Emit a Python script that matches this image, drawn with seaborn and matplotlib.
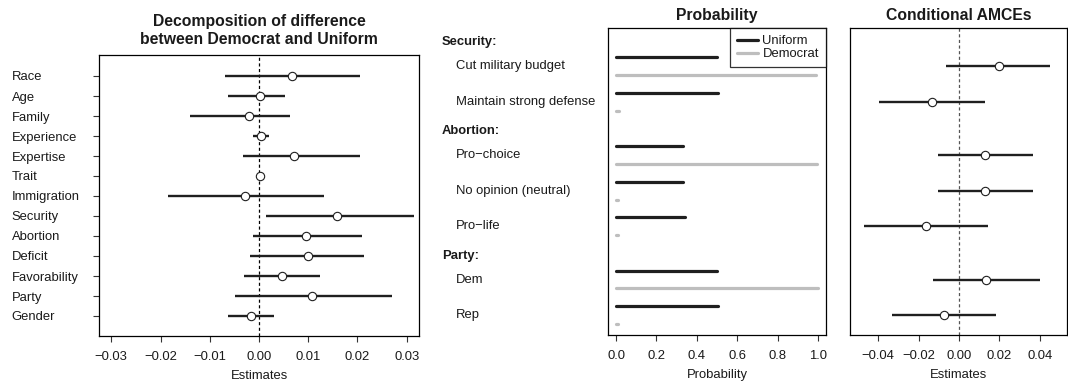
import numpy as np
import pandas as pd
import matplotlib
matplotlib.use("Agg")
import matplotlib.pyplot as plt
import matplotlib.transforms as mtransforms
from matplotlib.lines import Line2D
import seaborn as sns

# ---- Decomposition of difference (left panel) ----
attributes = ["Race", "Age", "Family", "Experience", "Expertise", "Trait",
              "Immigration", "Security", "Abortion", "Deficit",
              "Favorability", "Party", "Gender"]
decomp_est = [0.0068, 0.0002, -0.0021, 0.0005, 0.0072, 0.0002, -0.0028,
              0.0159, 0.0096, 0.0099, 0.0046, 0.0107, -0.0016]
decomp_lo = [-0.0070, -0.0062, -0.0140, -0.0012, -0.0032, 0.0000, -0.0184,
             0.0014, -0.0012, -0.0018, -0.0030, -0.0049, -0.0063]
decomp_hi = [0.0205, 0.0053, 0.0062, 0.0020, 0.0206, 0.0004, 0.0133,
             0.0314, 0.0209, 0.0214, 0.0124, 0.0270, 0.0030]

# ---- Probability of each level (middle panel) ----
groups = ["Security:", "Abortion:", "Party:"]
levels = [["Cut military budget", "Maintain strong defense"],
          ["Pro\u2212choice", "No opinion (neutral)", "Pro\u2212life"],
          ["Dem", "Rep"]]
prob_uniform = [0.500, 0.503, 0.333, 0.333, 0.341, 0.498, 0.505]
prob_democrat = [0.988, 0.015, 0.993, 0.008, 0.008, 1.000, 0.008]

# ---- Conditional AMCEs (right panel) ----
amce_est = [0.0198, -0.0132, 0.0129, 0.0129, -0.0164, 0.0136, -0.0074]
amce_lo = [-0.0063, -0.0395, -0.0106, -0.0106, -0.0469, -0.0131, -0.0332]
amce_hi = [0.0453, 0.0131, 0.0365, 0.0365, 0.0145, 0.0403, 0.0183]

sns.set_theme(style="white")
plt.rcParams["font.family"] = ["Liberation Sans", "DejaVu Sans"]
plt.rcParams.update({
    "axes.edgecolor": "black", "axes.linewidth": 0.9,
    "xtick.color": "#333333", "ytick.color": "#333333",
    "text.color": "#1a1a1a", "axes.labelcolor": "#1a1a1a",
    "xtick.labelcolor": "#1a1a1a", "ytick.labelcolor": "#1a1a1a",
})

FS = 9.4
TFS = 11.3
DARK = "#1f1f1f"
GRAY = "#bebebe"

fig = plt.figure(figsize=(10.68, 3.85), dpi=100)
W, H = 1068, 385


def axes_px(l, t, r, b):
    return fig.add_axes([l / W, 1 - b / H, (r - l) / W, (b - t) / H])


ax1 = axes_px(99, 55, 419, 336)
ax2 = axes_px(608, 28, 826, 335)
ax3 = axes_px(850, 28, 1067, 335)

# ---------------- left panel ----------------
df1 = pd.DataFrame({"attr": attributes, "est": decomp_est,
                    "lo": decomp_lo, "hi": decomp_hi})
df1["y"] = np.arange(len(df1))
ax1.axvline(0, color="black", lw=0.9, ls=(0, (2.5, 2)), zorder=1)
ax1.hlines(df1["y"], df1["lo"], df1["hi"], color=DARK, lw=1.7, zorder=2)
sns.scatterplot(data=df1, x="est", y="y", ax=ax1, s=36, color="white",
                edgecolor=DARK, linewidth=0.8, zorder=3, legend=False)
ax1.set_xlim(-0.0325, 0.0325)
ax1.set_ylim(13.0, -1.05)
ax1.set_xticks(np.arange(-0.03, 0.031, 0.01))
ax1.set_xticklabels([f"{v:.2f}".replace("-", "\u2212") for v in np.arange(-0.03, 0.031, 0.01)])
ax1.set_yticks(df1["y"])
ax1.set_yticklabels(attributes, ha="left")
ax1.tick_params(axis="y", left=True, length=4.5, width=0.8, pad=58.5, labelsize=FS)
ax1.tick_params(axis="x", bottom=True, length=4, width=0.8, pad=6.5, labelsize=FS)
ax1.set_xlabel("Estimates", fontsize=FS, labelpad=5)
ax1.set_ylabel("")
ax1.text(0.5, 1.087, "Decomposition of difference\nbetween Democrat and Uniform",
         transform=ax1.transAxes, ha="center", va="center",
         fontsize=TFS, fontweight="bold", linespacing=1.22)

# ---------------- middle + right panels: shared row layout ----------------
label_rows = []
bar_rows = []
slot = 0
for g, lv in zip(groups, levels):
    label_rows.append((g, slot, True))
    slot += 1
    for name in lv:
        label_rows.append((name, slot + 0.5, False))
        bar_rows.append(slot)
        slot += 2
bar_rows = np.array(bar_rows, dtype=float)

ylim = (16.62, -0.65)

df2 = pd.DataFrame({"y": np.concatenate([bar_rows, bar_rows + 1]),
                    "p": prob_uniform + prob_democrat,
                    "dist": ["Uniform"] * len(bar_rows) + ["Democrat"] * len(bar_rows)})
for dist, col in [("Uniform", DARK), ("Democrat", GRAY)]:
    sub = df2[df2["dist"] == dist]
    ax2.hlines(sub["y"], 0, sub["p"], color=col, lw=2.3, capstyle="round")
ax2.set_xlim(-0.04, 1.04)
ax2.set_ylim(*ylim)
ax2.set_yticks([])
ax2.set_xticks(np.arange(0, 1.01, 0.2))
ax2.set_xticklabels([f"{v:.1f}" for v in np.arange(0, 1.01, 0.2)])
ax2.tick_params(axis="x", bottom=True, length=4, width=0.8, pad=6.5, labelsize=FS)
ax2.set_xlabel("Probability", fontsize=FS, labelpad=5)
ax2.set_ylabel("")
ax2.set_title("Probability", fontsize=TFS, fontweight="bold", pad=6)

trans = mtransforms.blended_transform_factory(fig.transFigure, ax2.transData)
for text, yy, is_header in label_rows:
    if is_header:
        ax2.text(442 / W, yy + 0.15, text, transform=trans, ha="left", va="center",
                 fontsize=FS, fontweight="bold")
    else:
        ax2.text(456 / W, yy, text, transform=trans, ha="left", va="center",
                 fontsize=FS)

handles = [Line2D([], [], color=DARK, lw=2.3), Line2D([], [], color=GRAY, lw=2.3)]
leg = ax2.legend(handles, ["Uniform", "Democrat"], loc="upper right",
                 borderaxespad=0, fancybox=False, frameon=True, fontsize=FS,
                 handlelength=1.6, handletextpad=0.35, labelspacing=0.05,
                 borderpad=0.55)
leg.get_frame().set_edgecolor("black")
leg.get_frame().set_linewidth(0.9)

# ---------------- right panel ----------------
df3 = pd.DataFrame({"y": bar_rows + 0.5, "est": amce_est,
                    "lo": amce_lo, "hi": amce_hi})
ax3.axvline(0, color="#555555", lw=0.9, ls=(0, (2.5, 2)), zorder=1)
ax3.hlines(df3["y"], df3["lo"], df3["hi"], color=DARK, lw=1.7, zorder=2)
sns.scatterplot(data=df3, x="est", y="y", ax=ax3, s=36, color="white",
                edgecolor=DARK, linewidth=0.8, zorder=3, legend=False)
ax3.set_xlim(-0.054, 0.0535)
ax3.set_ylim(*ylim)
ax3.set_yticks([])
ax3.set_xticks(np.arange(-0.04, 0.041, 0.02))
ax3.set_xticklabels([f"{v:.2f}".replace("-", "\u2212") for v in np.arange(-0.04, 0.041, 0.02)])
ax3.tick_params(axis="x", bottom=True, length=4, width=0.8, pad=6.5, labelsize=FS)
ax3.set_xlabel("Estimates", fontsize=FS, labelpad=5)
ax3.set_ylabel("")
ax3.set_title("Conditional AMCEs", fontsize=TFS, fontweight="bold", pad=6)

fig.savefig("out.png", dpi=100)
